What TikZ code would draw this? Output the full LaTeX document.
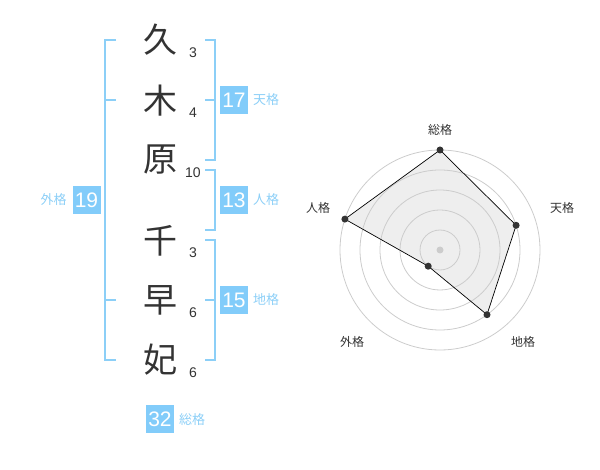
\documentclass[tikz,border=0pt]{standalone}
\usepackage{fontspec}
\setmainfont{Liberation Sans}
\newfontfamily\jp{Noto Sans CJK JP}
\definecolor{kblue}{HTML}{82CCFA}
\definecolor{lblue}{HTML}{8CCFF7}
\definecolor{ink}{HTML}{333333}
\definecolor{ringc}{HTML}{CCCCCC}
\definecolor{fillc}{HTML}{EEEEEE}
\begin{document}
\begin{tikzpicture}[x=1pt,y=-1pt,
  kanji/.style={font=\jp\fontsize{34}{34}\selectfont, text=ink, inner sep=0},
  strokes/.style={font=\fontsize{14}{14}\selectfont, text=ink, inner sep=0},
  brk/.style={draw=lblue, line width=2pt},
  numbox/.style={fill=kblue, text=white, minimum size=28pt, inner sep=0, font=\fontsize{21}{21}\selectfont},
  lab/.style={text=lblue, font=\jp\fontsize{13}{13}\selectfont, inner sep=0},
  rlab/.style={text=ink, font=\jp\fontsize{12}{12}\selectfont, inner sep=0},
  ring/.style={draw=ringc, line width=0.8pt},
  vdot/.style={circle, fill=ink, inner sep=0, minimum size=7pt},
  edge/.style={draw=black, line width=0.7pt}]
\useasboundingbox (0,0) rectangle (600,470);
% kanji
\node[kanji] (k1) at (160,40) {久};
\node[kanji] (k2) at (160,101) {木};
\node[kanji] (k3) at (160,160) {原};
\node[kanji] (k4) at (160,241) {千};
\node[kanji] (k5) at (160,300) {早};
\node[kanji] (k6) at (160,360) {妃};
% stroke counts
\node[strokes] (s1) at (193,53) {3};
\node[strokes] (s2) at (193,113) {4};
\node[strokes] (s3) at (193,173) {10};
\node[strokes] (s4) at (193,253) {3};
\node[strokes] (s5) at (193,313) {6};
\node[strokes] (s6) at (193,373) {6};
% brackets
\draw[brk] (116,40) -- (105,40) -- (105,360) -- (116,360);
\draw[brk] (105,100) -- (116,100);
\draw[brk] (105,300) -- (116,300);
\draw[brk] (205,40) -- (215,40) -- (215,160) -- (205,160);
\draw[brk] (205,100) -- (215,100);
\draw[brk] (205,170) -- (215,170) -- (215,230) -- (205,230);
\draw[brk] (205,240) -- (215,240) -- (215,360) -- (205,360);
\draw[brk] (205,300) -- (215,300);
% value boxes
\node[numbox] (b17) at (234,100) {17};
\node[lab] (l17) at (266,100) {天格};
\node[numbox] (b13) at (234,200) {13};
\node[lab] (l13) at (266,200) {人格};
\node[numbox] (b15) at (234,300) {15};
\node[lab] (l15) at (266,300) {地格};
\node[numbox] (b19) at (86.5,200) {19};
\node[lab] (l19) at (53.5,200) {外格};
\node[numbox] (b32) at (160,419) {32};
\node[lab] (l32) at (192,420) {総格};
% radar
\coordinate (c) at (440,250);
\coordinate (p1) at (440,150);
\coordinate (p2) at (516.1,225.3);
\coordinate (p3) at (487.0,314.7);
\coordinate (p4) at (428.2,266.2);
\coordinate (p5) at (344.9,219.1);
\fill[fillc] (p1) -- (p2) -- (p3) -- (p4) -- (p5) -- cycle;
\foreach \r in {20,40,60,80,100} \draw[ring] (c) circle[radius=\r];
\fill[ringc] (c) circle[radius=3.5];
\draw[edge] (p1) -- (p2) -- (p3) -- (p4) -- (p5) -- cycle;
\node[vdot] (d1) at (p1) {};
\node[vdot] (d2) at (p2) {};
\node[vdot] (d3) at (p3) {};
\node[vdot] (d4) at (p4) {};
\node[vdot] (d5) at (p5) {};
\node[rlab] (r1) at (440,130) {総格};
\node[rlab] (r2) at (562,208) {天格};
\node[rlab] (r3) at (523,342) {地格};
\node[rlab] (r4) at (352,342) {外格};
\node[rlab] (r5) at (318,208) {人格};
\end{tikzpicture}
\end{document}
